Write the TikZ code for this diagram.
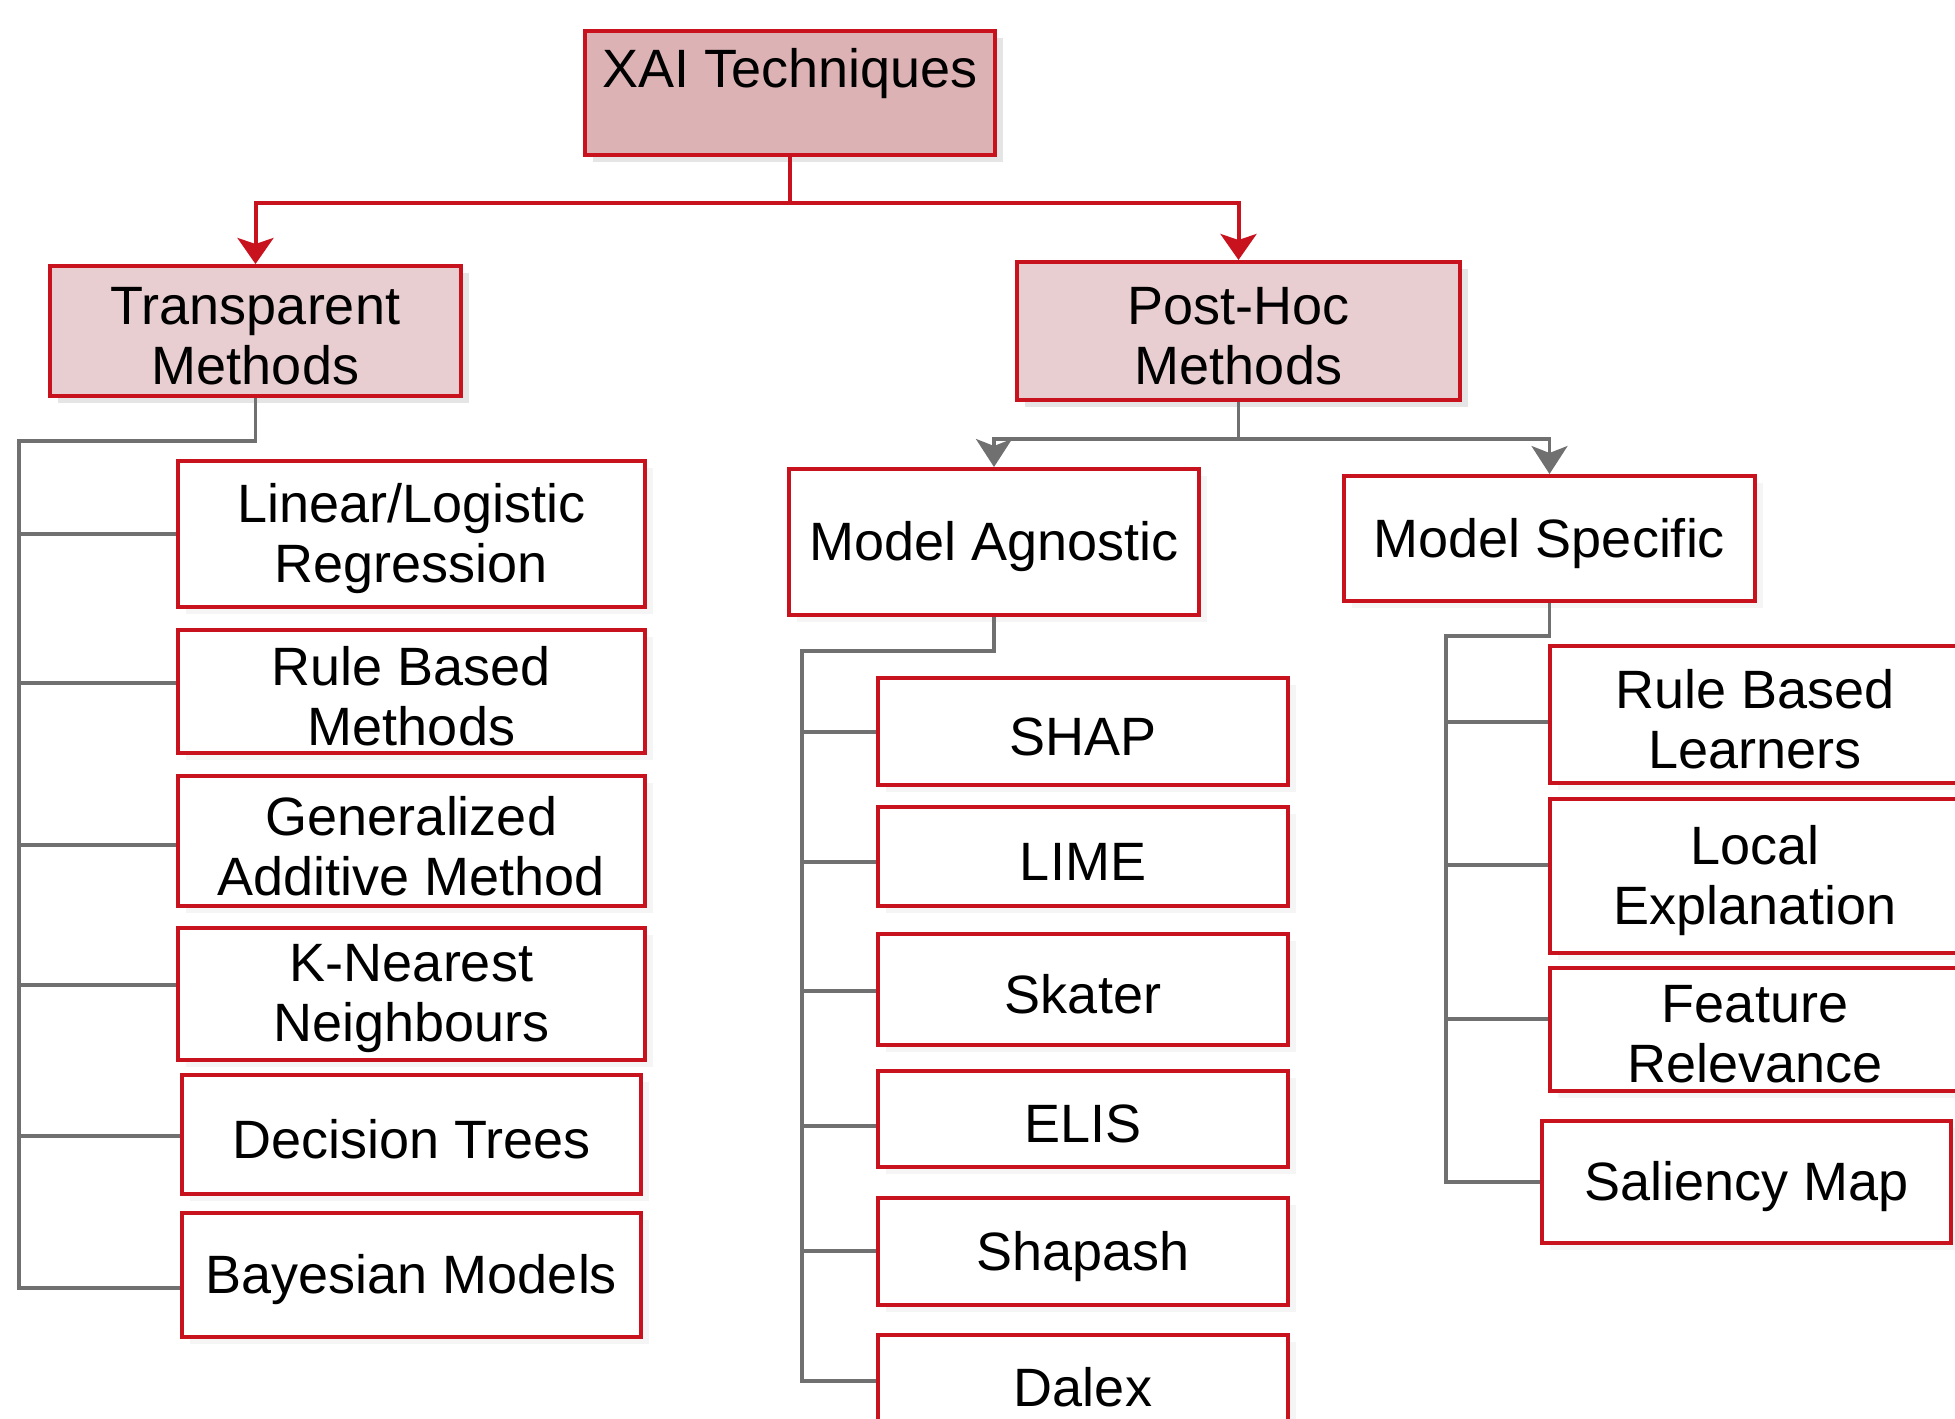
\documentclass[tikz,border=0pt]{standalone}
\usepackage{fontspec}
\setmainfont{Liberation Sans}
\usetikzlibrary{arrows.meta,shadows,calc}
\definecolor{redb}{RGB}{200,18,30}
\definecolor{pinkA}{RGB}{220,178,180}
\definecolor{pinkB}{RGB}{232,206,208}
\definecolor{grayl}{RGB}{112,112,112}
\newcommand\mkbox[7]{%
  \node[#6, minimum width={(#4-#2)*0.5pt}, minimum height={(#5-#3)*0.5pt}] (#1) at ({(#2+#4)/2},{(#3+#5)/2}) {};
  \node[boxtext, yshift=-2.5pt] (#1T) at (#1.center) {#7};}
\begin{document}
\begin{tikzpicture}[x=0.5pt,y=-0.5pt,
  boxtext/.style={inner sep=0pt, align=center, font=\fontsize{27}{30}\selectfont},
  basebox/.style={draw=redb, line width=2pt, inner sep=0pt},
  pbox/.style={basebox, fill=pinkB, drop shadow={shadow xshift=4pt, shadow yshift=-3.5pt, fill=black!10, opacity=1}},
  xbox/.style={basebox, fill=pinkA, drop shadow={shadow xshift=4pt, shadow yshift=-3.5pt, fill=black!10, opacity=1}},
  wbox/.style={basebox, fill=white, drop shadow={shadow xshift=4pt, shadow yshift=-3.5pt, fill=black!4, opacity=1}},
  redline/.style={draw=redb, line width=2pt},
  grayline/.style={draw=grayl, line width=1.7pt},
  redarrow/.style={redline, -{Stealth[length=13pt,width=18pt,inset=3pt]}},
  grayarrow/.style={grayline, -{Stealth[length=14pt,width=18pt,inset=3.5pt]}},
]
\useasboundingbox (0,0) rectangle (1955,1419);
% top level
\node[xbox, minimum width=205pt, minimum height=62pt] (xai) at (790,93) {};
\node[boxtext, anchor=base] (xaiT) at (790,87) {XAI Techniques};
\mkbox{trans}{50}{266}{461}{396}{pbox}{Transparent\\Methods}
\mkbox{post}{1017}{262}{1460}{400}{pbox}{Post-Hoc\\Methods}
\mkbox{agn}{789}{469}{1199}{615}{wbox}{Model Agnostic}
\mkbox{spec}{1344}{476}{1755}{601}{wbox}{Model Specific}
% transparent children
\mkbox{lin}{178}{461}{645}{607}{wbox}{Linear/Logistic\\Regression}
\mkbox{rbm}{178}{630}{645}{753}{wbox}{Rule Based\\Methods}
\mkbox{gam}{178}{776}{645}{906}{wbox}{Generalized\\Additive Method}
\mkbox{knn}{178}{928}{645}{1060}{wbox}{K-Nearest\\Neighbours}
\mkbox{dt}{182}{1075}{641}{1194}{wbox}{Decision Trees}
\mkbox{bay}{182}{1213}{641}{1337}{wbox}{Bayesian Models}
% agnostic children
\mkbox{shap}{878}{678}{1288}{785}{wbox}{SHAP}
\mkbox{lime}{878}{807}{1288}{906}{wbox}{LIME}
\mkbox{skat}{878}{934}{1288}{1045}{wbox}{Skater}
\mkbox{elis}{878}{1071}{1288}{1167}{wbox}{ELIS}
\mkbox{shps}{878}{1198}{1288}{1305}{wbox}{Shapash}
\mkbox{dalex}{878}{1335}{1288}{1430}{wbox}{Dalex}
% specific children
\mkbox{rbl}{1550}{646}{1960}{783}{wbox}{Rule Based\\Learners}
\mkbox{le}{1550}{799}{1960}{953}{wbox}{Local\\Explanation}
\mkbox{fr}{1550}{968}{1960}{1091}{wbox}{Feature\\Relevance}
\mkbox{sm}{1542}{1121}{1951}{1243}{wbox}{Saliency Map}
% red connectors
\coordinate (j1) at (xai.south |- 0,203);
\draw[redline] (xai.south) -- (j1);
\draw[redarrow] (j1) -| (trans.north);
\draw[redarrow] (j1) -| (post.north);
% post-hoc connectors
\coordinate (j2) at (post.south |- 0,439);
\draw[grayline] (post.south) -- (j2);
\draw[grayarrow] (j2) -| (agn.north);
\draw[grayarrow] (j2) -| (spec.north);
% transparent tree
\coordinate (tA) at (19,441);
\coordinate (tB) at (19,1288);
\draw[grayline] (trans.south) |- (tA) -- (tB) -- (bay.west |- tB);
\foreach \c/\yy in {lin/534,rbm/683,gam/845,knn/985,dt/1136}{\draw[grayline] (\c.west |- 0,\yy) -- (tA |- 0,\yy);}
% agnostic tree
\coordinate (aA) at (802,651);
\coordinate (aB) at (802,1381);
\draw[grayline] (agn.south) |- (aA) -- (aB) -- (dalex.west |- aB);
\foreach \c/\yy in {shap/732,lime/862,skat/991,elis/1126,shps/1251}{\draw[grayline] (\c.west |- 0,\yy) -- (aA |- 0,\yy);}
% specific tree
\coordinate (sA) at (1446,636);
\coordinate (sB) at (1446,1182);
\draw[grayline] (spec.south) |- (sA) -- (sB) -- (sm.west |- sB);
\foreach \c/\yy in {rbl/722,le/865,fr/1019}{\draw[grayline] (\c.west |- 0,\yy) -- (sA |- 0,\yy);}
\end{tikzpicture}
\end{document}
